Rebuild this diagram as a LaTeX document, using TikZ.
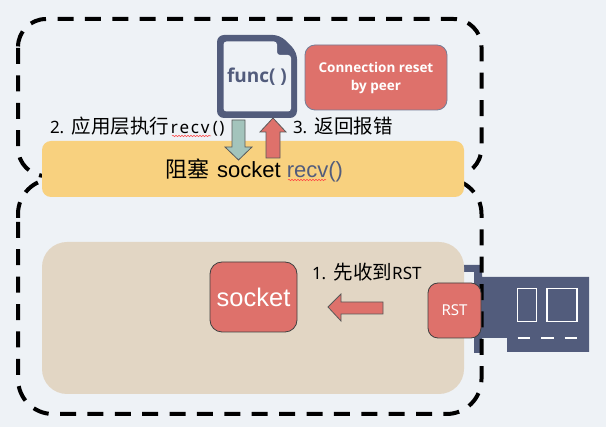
\documentclass[tikz,border=0pt]{standalone}
\usepackage{fontspec}
\setmainfont{Liberation Sans}
\newfontfamily\cjkfont{Noto Sans CJK SC}
\newfontfamily\labfont{Noto Sans}
\newfontfamily\boldfont{Open Sans}
\usetikzlibrary{decorations.pathmorphing}
\definecolor{bgc}{HTML}{EEF2F6}
\definecolor{yelc}{HTML}{F8D17F}
\definecolor{tanc}{HTML}{E2D6C4}
\definecolor{redc}{HTML}{DE716B}
\definecolor{bluec}{HTML}{525C7C}
\definecolor{grnc}{HTML}{A3C4BC}
\newcommand{\fs}[1]{\fontsize{#1}{#1}\selectfont}
\newcommand{\zh}[1]{{\fontsize{19.5}{20}\selectfont\cjkfont #1}}
\tikzset{
  x=1pt,y=-1pt,
  dashbox/.style={draw=black,line width=4pt,dash pattern=on 16pt off 11.39pt},
  dashboxoff/.style={dashbox,dash phase=16pt},
  panel/.style={rectangle,inner sep=0pt,outer sep=0pt},
  redbox/.style={panel,fill=redc,draw=black!75,line width=0.8pt,text=white},
  lab/.style={inner sep=0pt,outer sep=0pt,anchor=base west,text=black},
  blockarrow/.style={line width=0.8pt,draw=black!65},
  wavy/.style={draw=red!75,line width=0.5pt,decorate,decoration={snake,amplitude=0.7pt,segment length=3pt}}
}
\begin{document}
\begin{tikzpicture}
\useasboundingbox (0,0) rectangle (606,427);
\fill[bgc] (0,0) rectangle (606,427);
% network card
\fill[bluec] (463,265) -- (482,265) -- (482,277) -- (589,277) -- (589,352) -- (507,352) -- (507,338) -- (482,338) -- (482,353) -- (474,353) -- (474,272) -- (463,272) -- cycle;
\draw[white,line width=1.6pt] (517.5,288.5) rectangle (536.5,321.5);
\draw[white,line width=1.6pt] (547,288.5) rectangle (577,321.5);
\draw[white,line width=2pt,dash pattern=on 12.5pt off 11pt] (517.5,338) -- (578,338);
% dashed frame, upper
\draw[dashbox,rounded corners=28pt] (57.5,19) -- (481.5,19) -- (481.5,176) -- (400,176);
\draw[dashbox,rounded corners=28pt] (18,48) -- (18,176) -- (100,176);
\draw[dashbox,rounded corners=28pt] (46,19) -- (18,19) -- (18,47);
% dashed frame, lower
\draw[dashbox,rounded corners=35pt] (60,414) -- (481.5,414) -- (481.5,179) -- (400,179);
\draw[dashboxoff,rounded corners=35pt] (60,414) -- (18,414) -- (18,222);
\draw[dashbox,rounded corners=35pt] (18,218) -- (18,179) -- (100,179);
% panels
\node[panel,fill=yelc,rounded corners=9pt,minimum width=422pt,minimum height=56pt] (block) at (253,169) {};
\node[panel,fill=tanc,rounded corners=25pt,minimum width=422pt,minimum height=152pt] (kernel) at (253,318) {};
% socket text in the yellow bar
\node[lab] (blocktxt) at (165,178) {\fs{22}{\cjkfont 阻塞}\kern2pt\ socket {\color{bluec}recv()}};
\coordinate (w1a) at (288,180);
\coordinate (w1b) at (326,180);
\draw[wavy] (w1a) -- (w1b);
% file icon
\fill[bluec,rounded corners=7pt] (217,35) -- (280,35) -- (297,52) -- (297,118) -- (217,118) -- cycle;
\fill[bgc,rounded corners=3pt] (223.5,41.5) -- (277,41.5) -- (277,55) -- (291,55) -- (291,111.5) -- (223.5,111.5) -- cycle;
\node[inner sep=0pt,text=bluec,font=\boldfont\bfseries\fs{19}] (func) at (257,77) {func( )};
% error box
\node[panel,fill=redc,draw=bluec!80,line width=0.8pt,rounded corners=10pt,minimum width=142pt,minimum height=65pt,text=white,align=center,font=\boldfont\bfseries\fs{13.5}] (err) at (376,77.5)
  {Connection reset\\[4.5pt]by peer};
% socket box
\node[redbox,rounded corners=12pt,minimum width=87pt,minimum height=70pt,font=\fs{25.5}] (sock) at (253.5,297) {socket};
% RST box
\node[redbox,rounded corners=10pt,minimum width=53pt,minimum height=55pt,font=\labfont\fs{15}] (rst) at (454.5,310.5) {RST};
% arrows
\draw[blockarrow,fill=grnc] (232,120) -- (245,120) -- (245,147) -- (252,147) -- (238.5,160) -- (225,147) -- (232,147) -- cycle;
\draw[blockarrow,fill=redc] (273,118) -- (286,132) -- (280,132) -- (280,158) -- (266,158) -- (266,132) -- (260,132) -- cycle;
\draw[blockarrow,fill=redc] (328,307) -- (341,294) -- (341,302) -- (383,302) -- (383,314) -- (341,314) -- (341,321) -- cycle;
% labels
\node[lab] (l2) at (50,134) {\labfont\fs{17}2.\kern3pt\ \zh{应用层执行}\hbox to 42pt{\hss r\hss e\hss c\hss v\hss}\hbox to 15pt{\hss(\hss)\hss}};
\coordinate (w2a) at (172,136);
\coordinate (w2b) at (211,136);
\draw[wavy] (w2a) -- (w2b);
\node[lab] (l3) at (293,134) {\labfont\fs{17}3.\kern3pt\ \zh{返回报错}};
\node[lab] (l1) at (312,280) {\labfont\fs{17}1.\kern3pt\ \zh{先收到}RST};
\end{tikzpicture}
\end{document}
